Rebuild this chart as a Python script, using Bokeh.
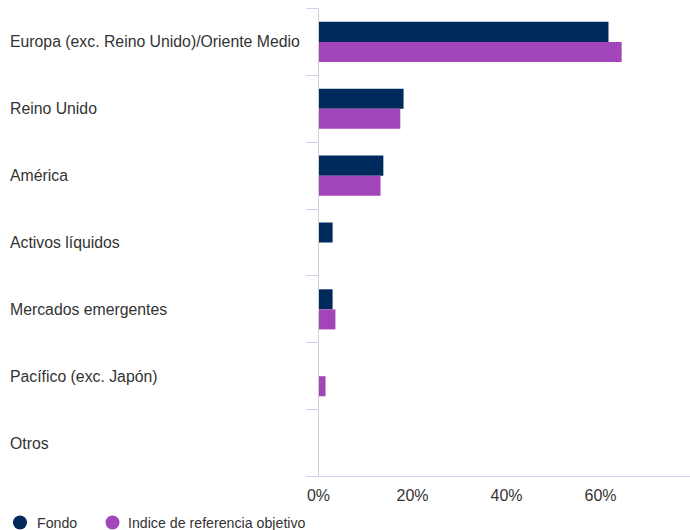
import numpy as np
from bokeh.plotting import figure
from bokeh.models import (ColumnDataSource, Range1d, FixedTicker, PrintfTickFormatter,
                          LinearAxis)
from bokeh.core.properties import value
from bokeh.embed import file_html
from bokeh.resources import INLINE

# ---- data ----
categories = ["Europa (exc. Reino Unido)/Oriente Medio", "Reino Unido", "América",
              "Activos líquidos", "Mercados emergentes", "Pacífico (exc. Japón)", "Otros"]
fondo = [61.7, 18.1, 13.8, 3.0, 3.0, 0.0, 0.0]
indice = [64.5, 17.4, 13.2, 0.0, 3.6, 1.5, 0.0]
series_names = ["Fondo", "Indice de referencia objetivo"]
x_ticks = [0, 20, 40, 60]

# ---- styles / layout (pixels) ----
FONT = "Liberation Sans"
TXT = "#333333"
C_FONDO = "#002A5C"
C_INDICE = "#A245B8"

W, H = 690, 530
AX_LEFT = 318      # page x of value 0
AX_TOP = 8         # page y of top of category band
AX_BOTTOM = 476    # page y of value axis line
X_END = 79.15      # value at right edge

n = len(categories)
px_x = (W - AX_LEFT) / X_END             # px per % unit
px_y = (AX_BOTTOM - AX_TOP) / n          # px per category band


def to_x(px):
    return (px - AX_LEFT) / px_x


def to_y(py):
    return (AX_BOTTOM - py) / px_y


centers = n - np.arange(n) - 0.5
bar_h = 0.3

src = ColumnDataSource(dict(
    cat=categories,
    yc=centers,
    y_f=centers + bar_h / 2,
    y_i=centers - bar_h / 2,
    fondo=fondo,
    indice=indice,
    lx=[to_x(9.5)] * n,
))

p = figure(width=W, height=H, output_backend="svg", toolbar_location=None,
           x_range=Range1d(to_x(0), to_x(W)), y_range=Range1d(to_y(H), to_y(0)),
           x_axis_type=None, y_axis_type=None, min_border=0)
p.outline_line_color = None
p.grid.visible = False
p.background_fill_color = "white"
p.border_fill_color = "white"

p.hbar(y="y_f", left=0, right="fondo", height=bar_h, source=src,
       fill_color=C_FONDO, line_color=None)
p.hbar(y="y_i", left=0, right="indice", height=bar_h, source=src,
       fill_color=C_INDICE, line_color=None)

# value axis (bottom), fixed at y = 0
xa = LinearAxis(fixed_location=0, bounds=(0, X_END))
xa.ticker = FixedTicker(ticks=x_ticks)
xa.formatter = PrintfTickFormatter(format="%d%%")
xa.major_tick_line_color = None
xa.major_tick_out = 0
xa.major_tick_in = 0
xa.minor_tick_line_color = None
xa.axis_line_color = "#ccd6eb"
xa.axis_line_width = 1
xa.major_label_text_font = FONT
xa.major_label_text_font_size = "16px"
xa.major_label_text_color = TXT
xa.major_label_standoff = 10
p.add_layout(xa, "below")

# category axis (left), fixed at x = 0, boundary ticks only
ya = LinearAxis(fixed_location=0, bounds=(0, n))
ya.ticker = FixedTicker(ticks=[], minor_ticks=list(range(n + 1)))
ya.minor_tick_out = 12
ya.minor_tick_in = 0
ya.minor_tick_line_color = "#ccd6eb"
ya.minor_tick_line_width = 1
ya.major_tick_line_color = None
ya.axis_line_color = "#d0d0d0"
ya.axis_line_width = 1
p.add_layout(ya, "left")

# category labels, left aligned
p.text(x="lx", y="yc", text="cat", source=src, text_font=value(FONT),
       text_font_size="15.8px", text_color=TXT, text_align="left",
       text_baseline="middle")

# legend
leg_src = ColumnDataSource(dict(
    name=series_names,
    color=[C_FONDO, C_INDICE],
    cx=[to_x(19.5), to_x(112)],
    tx=[to_x(36.5), to_x(127.5)],
    y=[to_y(522), to_y(522)],
))
p.scatter(x="cx", y="y", size=14, marker="circle", fill_color="color",
          line_color=None, source=leg_src)
p.text(x="tx", y="y", text="name", source=leg_src, text_font=value(FONT),
       text_font_size="14.2px", text_color=TXT, text_baseline="middle",
       text_align="left")

open("out.html", "w").write(file_html(p, INLINE))
